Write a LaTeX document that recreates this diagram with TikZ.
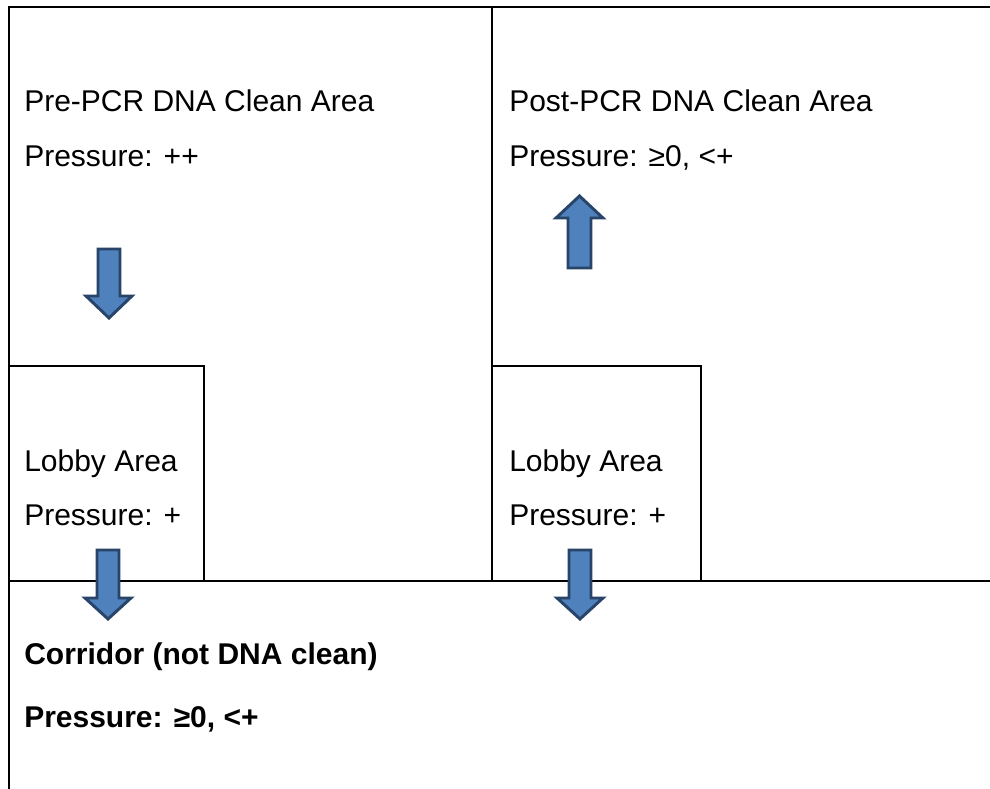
\documentclass[tikz,border=0pt]{standalone}
\usepackage{fontspec}
\setmainfont{Liberation Sans}
\usetikzlibrary{positioning}
\definecolor{flowfill}{RGB}{79,129,189}
\definecolor{flowline}{RGB}{40,68,105}
\begin{document}
\begin{tikzpicture}
[
    x=0.75pt, y=-0.75pt,
    wall/.style={line width=1.5pt},
    roomtext/.style={anchor=base west, inner sep=0pt, font=\fontsize{22.5}{27}\selectfont},
    flow/.style={fill=flowfill, draw=flowline, line width=2.2pt, line join=miter},
]
\useasboundingbox (0,0) rectangle (990,789);
% walls
\draw[wall] (9,789) -- (9,7) -- (990,7);
\draw[wall] (492,7) -- (492,581);
\draw[wall] (9,366) -- (204,366) -- (204,581);
\draw[wall] (492,366) -- (701,366) -- (701,581);
\draw[wall] (9,581) -- (990,581);
% rooms
\node[roomtext] (pre) at (24,111) {Pre-PCR DNA Clean Area};
\node[roomtext] (prep) at (24,166) {Pressure: ++};
\node[roomtext] (post) at (509,111) {Post-PCR DNA Clean Area};
\node[roomtext] (postp) at (509,166) {Pressure: ≥0, <+};
\node[roomtext] (lobA) at (24,471) {Lobby Area};
\node[roomtext] (lobAp) at (24,525) {Pressure: +};
\node[roomtext] (lobB) at (509,471) {Lobby Area};
\node[roomtext] (lobBp) at (509,525) {Pressure: +};
\node[roomtext, font=\fontsize{22.5}{27}\selectfont\bfseries] (corr) at (24,664) {Corridor (not DNA clean)};
\node[roomtext, font=\fontsize{22.5}{27}\selectfont\bfseries] (corrp) at (24,727) {Pressure: ≥0, <+};
% air flow
\foreach \cx/\ys/\yb/\yt in {109/249/296/318, 108/550/598/619, 580/550/598/619}
  \draw[flow] (\cx-11,\ys) -- (\cx+11,\ys) -- (\cx+11,\yb) -- (\cx+23,\yb)
    -- (\cx,\yt) -- (\cx-23,\yb) -- (\cx-11,\yb) -- cycle;
\draw[flow] (568,268) -- (591,268) -- (591,218) -- (603,218) -- (579.5,196)
    -- (556,218) -- (568,218) -- cycle;
\end{tikzpicture}
\end{document}
